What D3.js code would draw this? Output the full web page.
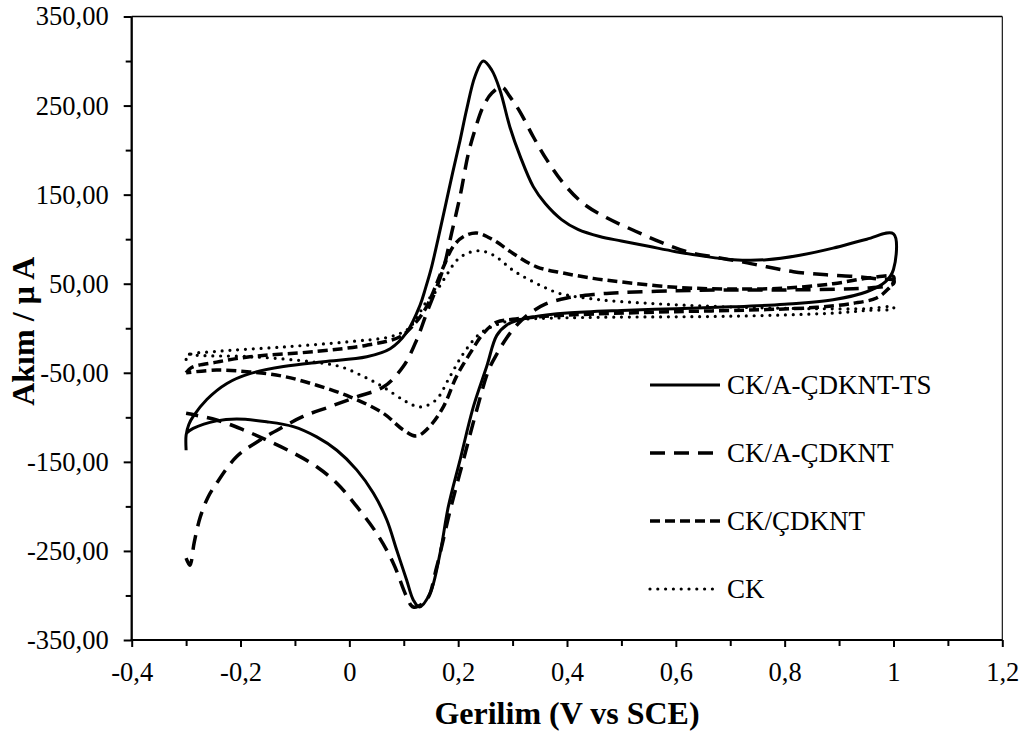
<!DOCTYPE html>
<html>
<head>
<meta charset="utf-8">
<script src="https://cdn.jsdelivr.net/npm/d3@7"></script>
<style>
  html, body { margin: 0; padding: 0; background: #fff; }
  svg { display: block; }
</style>
</head>
<body>
<svg id="chart" width="1031" height="736"></svg>
<script>
// Cyclic voltammograms: each loop is listed in scan order (forward sweep to 1.0 V, then back to -0.3 V).
// Potential in V vs SCE, current in µA.

// CK/A-ÇDKNT-TS
const tsPotential = [
  -0.3, -0.3, -0.295, -0.287, -0.262, -0.225, -0.183, -0.121, -0.048, 0.032, 0.075, 0.105, 0.13, 0.14, 0.15,
  0.163, 0.176, 0.19, 0.2035, 0.2157, 0.231, 0.246, 0.2616, 0.277, 0.295, 0.314, 0.338, 0.36, 0.39, 0.42,
  0.46, 0.5, 0.55, 0.6, 0.65, 0.706, 0.767, 0.828, 0.889, 0.951, 1.0,
  1.0, 0.985, 0.951, 0.889, 0.8, 0.7, 0.6, 0.5, 0.4, 0.34, 0.31, 0.29, 0.271, 0.2524, 0.228, 0.2034, 0.182,
  0.1666, 0.148, 0.1286, 0.1175, 0.1054, 0.087, 0.0687, 0.044, 0.0135, -0.023, -0.06, -0.103, -0.152, -0.207,
  -0.244, -0.287, -0.3
];
const tsCurrent = [
  -137, -120, -108, -99, -80, -62, -51, -43, -37.5, -32, -23, -5, 26, 45, 66,
  100, 136, 175, 211, 246, 283, 300, 290, 267, 226, 193, 159, 140, 122, 111,
  103, 98, 92, 86, 81, 77, 77, 82, 90, 100, 106,
  66, 52, 41, 32, 27, 24, 22, 20, 17, 13, 9, 4, -8, -43, -88, -148, -200,
  -253, -298, -313, -305, -283, -249, -215, -185, -159, -137, -122, -110.5, -105, -102,
  -104, -112.5, -118
];

// CK/A-ÇDKNT
const aPotential = [
  -0.3, -0.293, -0.285, -0.274, -0.26, -0.244, -0.207, -0.164, -0.121, -0.085, -0.0355, 0.0135, 0.0624, 0.099,
  0.1238, 0.142, 0.16, 0.175, 0.188, 0.2034, 0.2187, 0.231, 0.246, 0.262, 0.28, 0.295, 0.3136, 0.338, 0.363,
  0.393, 0.43, 0.473, 0.522, 0.571, 0.62, 0.67, 0.718, 0.767, 0.816, 0.877, 0.935, 0.975, 1.0,
  1.0, 0.985, 0.95, 0.9, 0.8, 0.7, 0.6, 0.5, 0.45, 0.4, 0.36, 0.33, 0.31, 0.29, 0.272, 0.256, 0.234, 0.2096,
  0.185, 0.1605, 0.142, 0.1175, 0.105, 0.081, 0.05, 0.0135, -0.023, -0.06, -0.103, -0.152, -0.195, -0.244, -0.3
];
const aCurrent = [
  -258, -266, -240, -212, -190, -174, -144, -125.5, -110.5, -99, -88, -77, -66, -43,
  -13, 17, 45, 72, 107, 148, 196, 223, 249, 264, 271, 260, 243, 215, 189,
  163, 140, 124, 110, 97, 86, 80, 75, 69, 63.5, 60, 58, 55, 54,
  50, 47, 45, 44, 43, 43, 42, 40, 38, 34, 27, 16, 5, -10, -28, -47, -92, -148,
  -205, -268, -305, -313, -301, -264, -230, -200, -174, -155.5, -140, -125.5, -114, -103, -95.5
];

// CK/ÇDKNT
const cntPotential = [
  -0.3, -0.29, -0.244, -0.183, -0.06, 0.032, 0.093, 0.12, 0.14, 0.155, 0.173, 0.191, 0.21, 0.234, 0.265,
  0.301, 0.344, 0.393, 0.448, 0.5, 0.6, 0.7, 0.8, 0.889, 0.951, 1.0,
  1.0, 0.99, 0.969, 0.926, 0.859, 0.767, 0.6, 0.45, 0.35, 0.3, 0.271, 0.246, 0.222, 0.197, 0.173, 0.148,
  0.1238, 0.099, 0.0624, 0.0012, -0.06, -0.121, -0.183, -0.244, -0.3
];
const cntCurrent = [
  -50, -44, -38, -32, -26, -19, -9.5, 5, 22, 42, 69, 92, 103, 107, 99,
  84, 69, 62, 56, 52, 46, 44, 45, 50, 56, 58,
  52, 44, 34, 28, 23.5, 21, 18.6, 16, 13, 10, 7, -6, -28, -54, -88, -110,
  -121, -114, -95.5, -77, -64, -54, -49, -47, -50
];

// CK
const ckPotential = [
  -0.3, -0.295, -0.244, -0.121, 0.0012, 0.075, 0.105, 0.118, 0.142, 0.16, 0.179, 0.197, 0.216, 0.24, 0.265,
  0.301, 0.332, 0.362, 0.387, 0.461, 0.55, 0.65, 0.75, 0.85, 0.95, 1.0,
  1.0, 0.951, 0.889, 0.7, 0.461, 0.35, 0.3, 0.271, 0.24, 0.21, 0.185, 0.16, 0.136, 0.12, 0.099, 0.0624,
  0.0257, -0.017, -0.072, -0.18, -0.287, -0.3
];
const ckCurrent = [
  -35, -30, -26, -21, -15, -9.5, -2, 6, 30, 42, 60, 76, 84, 87, 82,
  65, 54, 45, 39, 32, 28, 25, 23, 22, 22, 24,
  22, 20, 17, 13.5, 12.3, 11, 9, 4, -6, -28, -54, -80, -88, -87, -80.5, -66,
  -54, -43, -37.5, -32, -30, -28
];

const seriesNames = ["CK/A-ÇDKNT-TS", "CK/A-ÇDKNT", "CK/ÇDKNT", "CK"];
const xTicks = [-0.4, -0.2, 0, 0.2, 0.4, 0.6, 0.8, 1, 1.2];
const xMinorTicks = [-0.3, -0.1, 0.1, 0.3, 0.5, 0.7, 0.9, 1.1];
const yTicks = [-350, -250, -150, -50, 50, 150, 250, 350];
const yMinorTicks = [-300, -200, -100, 0, 100, 200, 300];
const xTitle = "Gerilim (V vs SCE)";
const yTitle = "Akım / µ A";

// ---- layout ----
const FONT = '"Liberation Serif", Tinos, "Times New Roman", "DejaVu Serif", serif';
const svg = d3.select("#chart");
const W = 1031, H = 736;
const plot = { left: 131.7, right: 1002.3, top: 16.5, bottom: 640 };

const x = d3.scaleLinear().domain([-0.4, 1.2]).range([plot.left, plot.right]);
const y = d3.scaleLinear().domain([-350, 350]).range([plot.bottom, plot.top]);

svg.append("rect").attr("width", W).attr("height", H).attr("fill", "#fff");

const fmtX = v => String(+v.toFixed(1)).replace(".", ",");
const fmtY = v => v.toFixed(2).replace(".", ",");

// frame: thin top / right border
svg.append("line").attr("x1", plot.left).attr("x2", plot.right).attr("y1", plot.top).attr("y2", plot.top)
  .attr("stroke", "#000").attr("stroke-width", 1.3);
svg.append("line").attr("x1", plot.right).attr("x2", plot.right).attr("y1", plot.top).attr("y2", plot.bottom)
  .attr("stroke", "#000").attr("stroke-width", 1.1);

// axes
function styleAxis(g) {
  g.attr("font-family", FONT).attr("font-size", 26.5);
  g.select(".domain").remove();
  g.selectAll(".tick line").attr("stroke", "#000").attr("stroke-width", 2);
  g.selectAll(".tick text").attr("font-family", FONT).attr("font-size", 26.5).attr("fill", "#000");
}

svg.append("g").attr("transform", `translate(0,${plot.bottom})`)
  .call(d3.axisBottom(x).tickValues(xTicks).tickFormat(fmtX).tickSize(7).tickPadding(15))
  .call(styleAxis);
svg.append("g").attr("transform", `translate(0,${plot.bottom})`)
  .call(d3.axisBottom(x).tickValues(xMinorTicks).tickFormat("").tickSize(6))
  .call(styleAxis);
svg.append("g").attr("transform", `translate(${plot.left},0)`)
  .call(d3.axisLeft(y).tickValues(yTicks).tickFormat(fmtY).tickSize(8).tickPadding(15))
  .call(styleAxis);
svg.append("g").attr("transform", `translate(${plot.left},0)`)
  .call(d3.axisLeft(y).tickValues(yMinorTicks).tickFormat("").tickSize(6))
  .call(styleAxis);

// axis lines
svg.append("line").attr("x1", plot.left).attr("x2", plot.left).attr("y1", plot.top).attr("y2", plot.bottom + 1)
  .attr("stroke", "#000").attr("stroke-width", 2.3);
svg.append("line").attr("x1", plot.left - 1).attr("x2", plot.right).attr("y1", plot.bottom).attr("y2", plot.bottom)
  .attr("stroke", "#000").attr("stroke-width", 2.2);

// ---- curves ----
const styles = [
  { dash: null, width: 3, cap: "butt" },
  { dash: "15,9", width: 3.5, cap: "butt" },
  { dash: "10,5", width: 3.5, cap: "butt" },
  { dash: "0,7.8", width: 3.2, cap: "round" }
];
const series = [
  { name: seriesNames[0], V: tsPotential, I: tsCurrent, style: styles[0] },
  { name: seriesNames[1], V: aPotential, I: aCurrent, style: styles[1] },
  { name: seriesNames[2], V: cntPotential, I: cntCurrent, style: styles[2] },
  { name: seriesNames[3], V: ckPotential, I: ckCurrent, style: styles[3] }
];

const line = d3.line()
  .x(d => x(d[0]))
  .y(d => y(d[1]))
  .curve(d3.curveCatmullRom.alpha(0.5));

const curves = svg.append("g");
series.slice().reverse().forEach(s => {
  const pts = s.V.map((v, i) => [v, s.I[i]]);
  curves.append("path")
    .attr("d", line(pts))
    .attr("fill", "none")
    .attr("stroke", "#000")
    .attr("stroke-width", s.style.width)
    .attr("stroke-linecap", s.style.cap)
    .attr("stroke-linejoin", "round")
    .attr("stroke-dasharray", s.style.dash);
});

// ---- legend ----
const legendRows = [385, 453, 521, 589];
const legend = svg.append("g");
series.forEach((s, i) => {
  const ly = legendRows[i];
  legend.append("line")
    .attr("x1", 650).attr("x2", 720).attr("y1", ly).attr("y2", ly)
    .attr("stroke", "#000")
    .attr("stroke-width", s.style.width)
    .attr("stroke-linecap", s.style.cap)
    .attr("stroke-dasharray", s.style.dash);
  legend.append("text")
    .attr("x", 727).attr("y", ly).attr("dy", "0.33em")
    .attr("font-family", FONT).attr("font-size", 27).attr("fill", "#000")
    .text(s.name);
});

// ---- titles ----
svg.append("text")
  .attr("x", (plot.left + plot.right) / 2).attr("y", 724)
  .attr("text-anchor", "middle")
  .attr("font-family", FONT).attr("font-size", 32).attr("font-weight", "bold").attr("fill", "#000")
  .text(xTitle);
svg.append("text")
  .attr("transform", `translate(34,${(plot.top + plot.bottom) / 2 + 3}) rotate(-90)`)
  .attr("text-anchor", "middle")
  .attr("font-family", FONT).attr("font-size", 32).attr("font-weight", "bold").attr("fill", "#000")
  .text(yTitle);
</script>
</body>
</html>
